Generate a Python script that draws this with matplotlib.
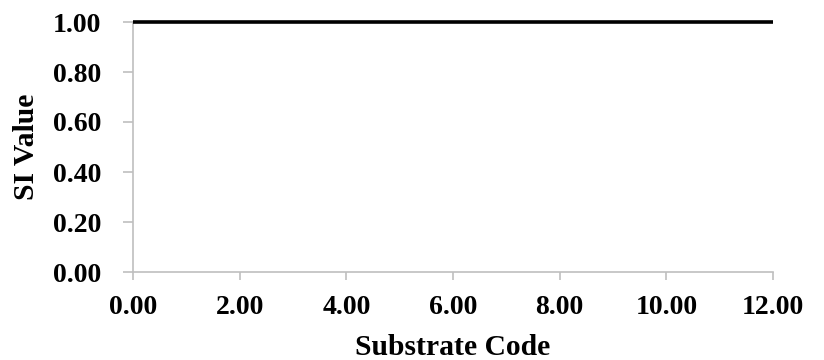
import matplotlib
matplotlib.use('Agg')
import matplotlib.pyplot as plt
import numpy as np

# substrate code vs SI value
substrate = [0.0, 12.0]
si_value = [1.0, 1.0]

xticks = np.arange(0, 13, 2)
yticks = np.arange(0, 1.01, 0.2)

plt.rcParams['font.family'] = 'Liberation Serif'
plt.rcParams['font.weight'] = 'bold'

fig = plt.figure(figsize=(8.24, 3.6), dpi=100)
ax = fig.add_axes([133/824, 88/360, 640/824, 250/360])

ax.plot(substrate, si_value, color='black', lw=2.6, solid_capstyle='butt', zorder=5, clip_on=False)

ax.set_xlim(0, 12)
ax.set_ylim(0, 1)
ax.set_xticks(xticks)
ax.set_yticks(yticks)
ax.set_xticklabels(['%.2f' % v for v in xticks])
ax.set_yticklabels(['%.2f' % v for v in yticks])

for s in ['top', 'right']:
    ax.spines[s].set_visible(False)
for s in ['left', 'bottom']:
    ax.spines[s].set_color('#bfbfbf')
    ax.spines[s].set_linewidth(1.2)
ax.tick_params(colors='#bfbfbf', width=1.2, labelcolor='black', labelsize=20)
ax.tick_params(axis='x', length=5.5, pad=11)
ax.tick_params(axis='y', length=7, pad=16)

ax.set_xlabel('Substrate Code', fontsize=21.3, fontweight='bold', labelpad=10)
ax.set_ylabel('SI Value', fontsize=21.3, fontweight='bold', labelpad=9)

plt.savefig('out.png')
